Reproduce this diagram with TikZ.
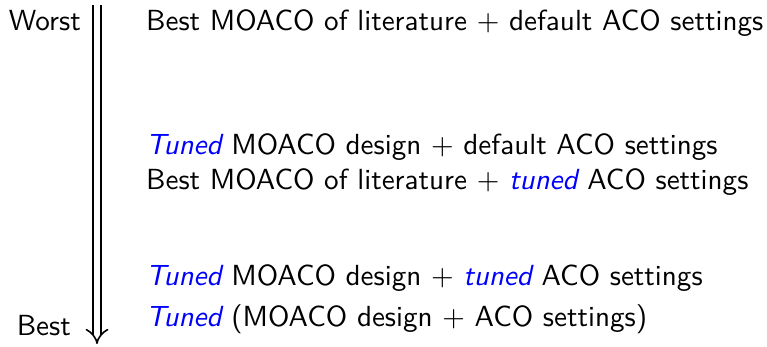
\documentclass[tikz,border=0pt]{standalone}
\usepackage{fontspec}
\usetikzlibrary{arrows.meta}
% Latin Modern at its 10pt design size, scaled up
\setsansfont{lmsans10-regular.otf}[ItalicFont=lmsans10-oblique.otf]
\newfontfamily\plusfont{lmroman10-regular.otf}
\definecolor{tuneblue}{RGB}{0,0,255}
\newcommand{\tuned}[1]{\textcolor{tuneblue}{\itshape #1}}
\newcommand{\plusop}{{\plusfont +}}
\tikzset{
  rowtext/.style={anchor=base west, inner sep=0pt, font=\fontsize{29.1}{34}\selectfont\sffamily},
  endlabel/.style={anchor=base east, inner sep=0pt, font=\fontsize{29.1}{34}\selectfont\sffamily},
  scale arrow/.style={draw, double, double distance=6.4pt, line width=1.6pt, -{Implies[scale=1.3]}}
}
\begin{document}
\begin{tikzpicture}[x=1pt, y=-1pt]
  \useasboundingbox (0,0) rectangle (767,347);
  % ranking axis
  \coordinate (top) at (97,5);
  \coordinate (bottom) at (97,344);
  \path[scale arrow] (top) -- (bottom);
  \node[endlabel] (worst) at (81,31) {Worst};
  \node[endlabel] (best) at (71,335) {Best};
  % configurations, from worst to best
  \node[rowtext] (r1) at (146,31) {Best MOACO of literature \plusop{} default ACO settings};
  \node[rowtext] (r2) at (146,155) {\tuned{Tuned} MOACO design \plusop{} default ACO settings};
  \node[rowtext] (r3) at (146,190) {Best MOACO of literature \plusop{} \tuned{tuned} ACO settings};
  \node[rowtext] (r4) at (146,285) {\tuned{Tuned} MOACO design \plusop{} \tuned{tuned} ACO settings};
  \node[rowtext] (r5) at (146,326) {\tuned{Tuned} (MOACO design \plusop{} ACO settings)};
\end{tikzpicture}
\end{document}
